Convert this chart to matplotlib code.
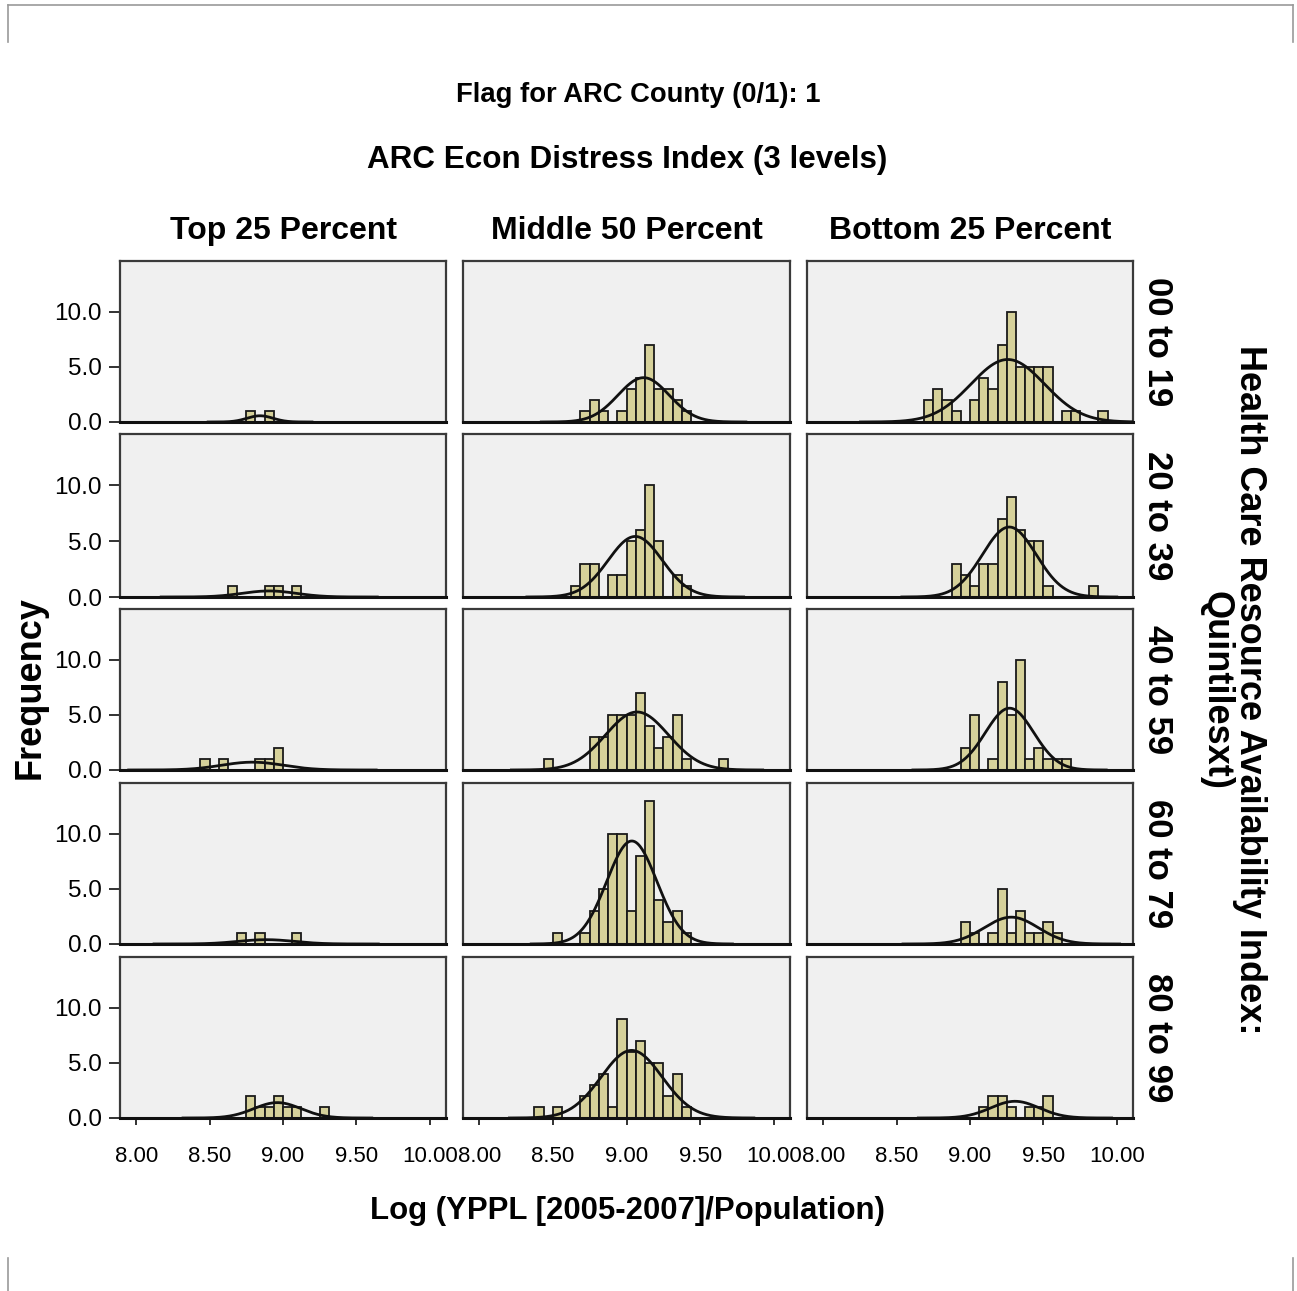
import numpy as np
import matplotlib.pyplot as plt
from matplotlib.lines import Line2D

plt.rcParams['font.family'] = ['Liberation Sans', 'DejaVu Sans']

col_titles = ["Top 25 Percent", "Middle 50 Percent", "Bottom 25 Percent"]
row_titles = ["00 to 19", "20 to 39", "40 to 59", "60 to 79", "80 to 99"]

# histogram bins shared by every panel
bin_start = 8.375
bin_width = 0.0625

# county counts per bin, one list per quintile (00-19 ... 80-99)
top25_counts = [
    [0, 0, 0, 0, 0, 0, 1, 0, 1, 0, 0, 0, 0, 0, 0, 0, 0, 0, 0, 0, 0, 0, 0, 0, 0],
    [0, 0, 0, 0, 1, 0, 0, 0, 1, 1, 0, 1, 0, 0, 0, 0, 0, 0, 0, 0, 0, 0, 0, 0, 0],
    [0, 1, 0, 1, 0, 0, 0, 1, 1, 2, 0, 0, 0, 0, 0, 0, 0, 0, 0, 0, 0, 0, 0, 0, 0],
    [0, 0, 0, 0, 0, 1, 0, 1, 0, 0, 0, 1, 0, 0, 0, 0, 0, 0, 0, 0, 0, 0, 0, 0, 0],
    [0, 0, 0, 0, 0, 0, 2, 1, 1, 2, 1, 1, 0, 0, 1, 0, 0, 0, 0, 0, 0, 0, 0, 0, 0],
]
middle50_counts = [
    [0, 0, 0, 0, 0, 1, 2, 1, 0, 1, 3, 4, 7, 3, 3, 2, 1, 0, 0, 0, 0, 0, 0, 0, 0],
    [0, 0, 0, 0, 1, 3, 3, 0, 2, 2, 5, 6, 10, 5, 0, 2, 1, 0, 0, 0, 0, 0, 0, 0, 0],
    [0, 1, 0, 0, 0, 0, 3, 3, 5, 5, 5, 7, 4, 2, 3, 5, 1, 0, 0, 0, 1, 0, 0, 0, 0],
    [0, 0, 1, 0, 0, 1, 3, 5, 10, 10, 3, 8, 13, 4, 2, 3, 1, 0, 0, 0, 0, 0, 0, 0, 0],
    [1, 0, 1, 0, 0, 2, 3, 4, 1, 9, 6, 7, 5, 5, 2, 4, 1, 0, 0, 0, 0, 0, 0, 0, 0],
]
bottom25_counts = [
    [0, 0, 0, 0, 0, 2, 3, 2, 1, 0, 2, 4, 3, 7, 10, 5, 5, 5, 5, 0, 1, 1, 0, 0, 1],
    [0, 0, 0, 0, 0, 0, 0, 0, 3, 2, 1, 3, 3, 7, 9, 6, 5, 5, 1, 0, 0, 0, 0, 1, 0],
    [0, 0, 0, 0, 0, 0, 0, 0, 0, 2, 5, 0, 1, 8, 5, 10, 1, 2, 1, 1, 1, 0, 0, 0, 0],
    [0, 0, 0, 0, 0, 0, 0, 0, 0, 2, 1, 0, 1, 5, 1, 3, 1, 1, 2, 1, 0, 0, 0, 0, 0],
    [0, 0, 0, 0, 0, 0, 0, 0, 0, 0, 0, 1, 2, 2, 1, 0, 1, 1, 2, 0, 0, 0, 0, 0, 0],
]

x_ticks = [8.0, 8.5, 9.0, 9.5, 10.0]
y_ticks = [0.0, 5.0, 10.0]

W, H = 1297, 1291
col_px = [(120, 446), (463, 790), (807, 1133)]
row_px = [(261, 422), (434, 597), (609, 770), (783, 944), (957, 1118)]

bar_color = '#d6d19a'
panel_bg = '#f0f0f0'


def normal_curve(counts):
    counts = np.asarray(counts, dtype=float)
    centers = bin_start + bin_width * (np.arange(len(counts)) + 0.5)
    n = counts.sum()
    mean = np.average(centers, weights=counts)
    sd = np.sqrt(np.sum(counts * (centers - mean) ** 2) / (n - 1))
    xs = np.linspace(mean - 4 * sd, mean + 4 * sd, 300)
    ys = n * bin_width * np.exp(-0.5 * ((xs - mean) / sd) ** 2) / (sd * np.sqrt(2 * np.pi))
    return xs, ys


fig = plt.figure(figsize=(W / 100, H / 100), dpi=100)

columns = [top25_counts, middle50_counts, bottom25_counts]
for c, col_counts in enumerate(columns):
    x0, x1 = col_px[c]
    for r, counts in enumerate(col_counts):
        y0, y1 = row_px[r]
        ax = fig.add_axes([x0 / W, 1 - y1 / H, (x1 - x0) / W, (y1 - y0) / H])
        ax.set_facecolor(panel_bg)

        edges = bin_start + bin_width * np.arange(len(counts))
        keep = [i for i, v in enumerate(counts) if v > 0]
        ax.bar(edges[keep], [counts[i] for i in keep], width=bin_width,
               align='edge', color=bar_color, edgecolor='#1a1a1a', linewidth=1.3,
               zorder=2)
        xs, ys = normal_curve(counts)
        ax.plot(xs, ys, color='#111111', linewidth=2.0, zorder=3)

        ax.set_xlim(7.89, 10.11)
        ax.set_ylim(0, 14.6)
        for side in ['top', 'left', 'right']:
            ax.spines[side].set_color('#3a3a3a')
            ax.spines[side].set_linewidth(1.6)
        ax.spines['bottom'].set_color('#111111')
        ax.spines['bottom'].set_linewidth(2.2)

        ax.set_xticks(x_ticks)
        ax.set_yticks(y_ticks)
        if r == len(col_counts) - 1:
            ax.set_xticklabels([f"{t:.2f}" for t in x_ticks])
            ax.tick_params(axis='x', length=5, width=1.3, color='#222222',
                           labelsize=16, pad=15)
        else:
            ax.set_xticklabels([])
            ax.tick_params(axis='x', length=0)
        if c == 0:
            ax.set_yticklabels([f"{t:.1f}" for t in y_ticks])
            ax.tick_params(axis='y', length=8, width=1.3, color='#222222',
                           labelsize=17.5, pad=5)
        else:
            ax.set_yticklabels([])
            ax.tick_params(axis='y', length=0)

# column headers and quintile labels
for c, title in enumerate(col_titles):
    xc = (col_px[c][0] + col_px[c][1]) / 2
    fig.text(xc / W, 1 - 231 / H, title, ha='center', va='center',
             fontsize=23, fontweight='bold')
for r, title in enumerate(row_titles):
    yc = (row_px[r][0] + row_px[r][1]) / 2
    fig.text(1158 / W, 1 - yc / H, title, ha='center', va='center',
             rotation=-90, fontsize=25, fontweight='bold')

fig.text(638 / W, 1 - 95 / H, "Flag for ARC County (0/1): 1", ha='center',
         va='center', fontsize=19.7, fontweight='bold')
fig.text(627 / W, 1 - 160 / H, "ARC Econ Distress Index (3 levels)", ha='center',
         va='center', fontsize=22.6, fontweight='bold')
fig.text(30 / W, 1 - 688 / H, "Frequency", ha='center', va='center',
         rotation=90, fontsize=26, fontweight='bold')
fig.text(627 / W, 1 - 1211 / H, "Log (YPPL [2005-2007]/Population)", ha='center',
         va='center', fontsize=22.4, fontweight='bold')
fig.text(1233 / W, 1 - 690 / H,
         "Health Care Resource Availability Index:\nQuintilesxt)",
         ha='center', va='center', rotation=-90, multialignment='center',
         fontsize=26, fontweight='bold', linespacing=0.95)

# page corner marks
frame = dict(color='#9a9a9a', linewidth=1.2)
fig.add_artist(Line2D([8 / W, 1293 / W], [1 - 5 / H, 1 - 5 / H], **frame))
for xp in (8, 1293):
    fig.add_artist(Line2D([xp / W, xp / W], [1 - 5 / H, 1 - 42 / H], **frame))
    fig.add_artist(Line2D([xp / W, xp / W], [1 - 1258 / H, 1 - 1291 / H], **frame))

fig.savefig("out.png", dpi=100, facecolor='white')
